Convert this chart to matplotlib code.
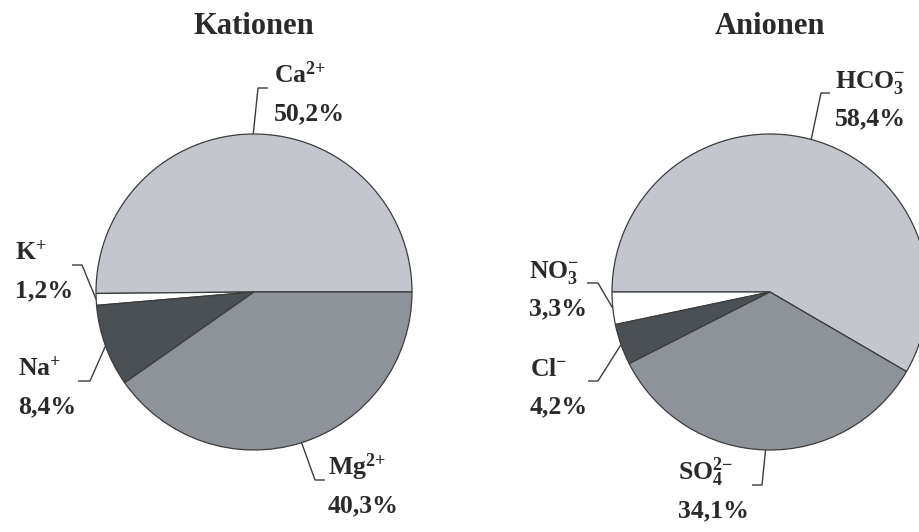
import numpy as np
import matplotlib.pyplot as plt

plt.rcParams['font.family'] = 'Liberation Serif'
plt.rcParams['font.weight'] = 'bold'
plt.rcParams['mathtext.fontset'] = 'custom'
plt.rcParams['mathtext.rm'] = 'Liberation Serif:bold'
plt.rcParams['mathtext.it'] = 'Liberation Serif:bold'
plt.rcParams['mathtext.bf'] = 'Liberation Serif:bold'
plt.rcParams['mathtext.default'] = 'rm'

# data
kat_names = ['Ca$^{2{+}}$', 'K$^{+}$', 'Na$^{+}$', 'Mg$^{2{+}}$']
kat_values = [50.2, 1.2, 8.4, 40.3]
an_names = ['HCO$_3^{-}$', 'NO$_3^{-}$', 'Cl$^{-}$', 'SO$_4^{2{-}}$']
an_values = [58.4, 3.3, 4.2, 34.1]

colors = ['#c3c6cd', '#ffffff', '#4b5055', '#8e939a']
txt_col = '#2a2a2a'
line_col = '#3c3c3c'

W, H = 919, 532
R = 158

# label layout in image pixels: elbow point, end of short horizontal, text left x
kat_layout = [
    dict(elbow=(258, 88), hend=268, tx=274),
    dict(elbow=(82, 265), hend=72, tx=15),
    dict(elbow=(90, 381), hend=78, tx=18),
    dict(elbow=(315, 480), hend=325, tx=328),
]
an_layout = [
    dict(elbow=(821, 93), hend=830, tx=835),
    dict(elbow=(598, 283), hend=587, tx=529),
    dict(elbow=(598, 381), hend=588, tx=530),
    dict(elbow=(762, 485), hend=752, tx=678),
]

fig = plt.figure(figsize=(W / 100, H / 100), dpi=100)
ax = fig.add_axes([0, 0, 1, 1])


def draw_pie(values, names, layout, cx, cy, start, title):
    center = (cx, H - cy)
    wedges, _ = ax.pie(values, colors=colors, startangle=start, counterclock=True,
                       center=center, radius=R,
                       wedgeprops=dict(edgecolor=line_col, linewidth=0.9))
    ax.text(cx, H - 27, title, ha='center', va='center', fontsize=22,
            color=txt_col)
    for w, name, val, lay in zip(wedges, names, values, layout):
        mid = np.deg2rad((w.theta1 + w.theta2) / 2)
        rim = (center[0] + R * np.cos(mid), center[1] + R * np.sin(mid))
        ex, ey = lay['elbow']
        ey = H - ey
        ax.plot([rim[0], ex, lay['hend']], [rim[1], ey, ey], color=line_col,
                lw=1.0, solid_capstyle='butt')
        pct = f'{val:.1f}'.replace('.', ',') + '%'
        ax.text(lay['tx'], ey + 5, name, ha='left', va='baseline',
                fontsize=18.5, color=txt_col)
        ax.text(lay['tx'], ey - 32, pct, ha='left', va='baseline',
                fontsize=18.5, color=txt_col)


draw_pie(kat_values, kat_names, kat_layout, 254, 292, 0, 'Kationen')
an_start = 180 - an_values[0] / sum(an_values) * 360
draw_pie(an_values, an_names, an_layout, 770, 292, an_start, 'Anionen')

ax.set_xlim(0, W)
ax.set_ylim(0, H)
ax.axis('off')

fig.savefig('out.png', dpi=100)
